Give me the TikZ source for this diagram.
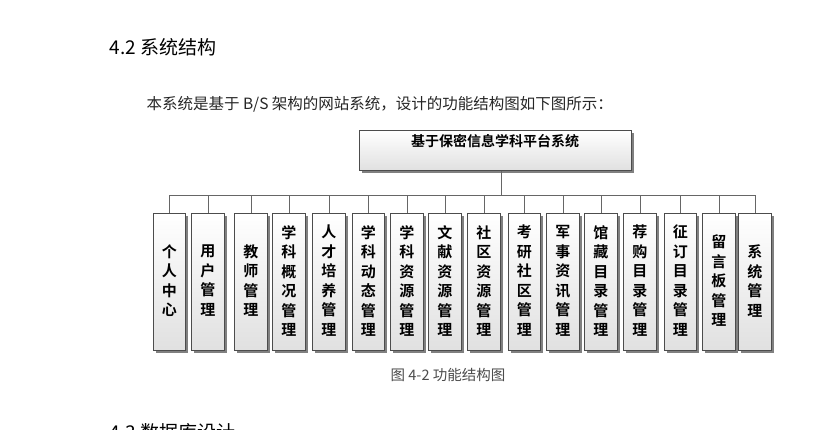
\documentclass[tikz,border=0pt]{standalone}
\usepackage{fontspec}
\usetikzlibrary{shadows,calc}
\setmainfont{Noto Sans CJK SC}
\newfontfamily\cjkb{Noto Sans CJK SC Bold}
\begin{document}
\begin{tikzpicture}[x=1pt,y=-1pt,
  mbox/.style={draw=black!70,line width=0.6pt,top color=white,bottom color=black!12,
    drop shadow={shadow xshift=2.5pt,shadow yshift=-2.5pt,fill=black!50,opacity=1},
    inner sep=0pt,align=center},
  conn/.style={draw=black!60,line width=0.6pt}]
\useasboundingbox[clip] (0,0) rectangle (835,429);
\fill[white] (0,0) rectangle (835,429);
\node[anchor=west,font=\fontsize{19}{22}\selectfont] (h) at (106,47) {4.2 系统结构};
\node[anchor=west,font=\fontsize{15.5}{18}\selectfont,text=black!85] (p) at (143,104) {本系统是基于 B/S 架构的网站系统，设计的功能结构图如下图所示：};
\node[mbox,minimum width=272pt,minimum height=40pt,anchor=north west] (top) at (359,130) {};
\node[font=\cjkb\fontsize{14}{16}\selectfont] (tt) at (495,141) {基于保密信息学科平台系统};
\coordinate (hb) at (501,195);
\foreach \i/\l/\r/\t in {1/153/185/{个\\人\\中\\心},2/191/224/{用\\户\\管\\理},3/234/267/{教\\师\\管\\理},4/272/305/{学\\科\\概\\况\\管\\理},5/312/345/{人\\才\\培\\养\\管\\理},6/352/384/{学\\科\\动\\态\\管\\理},7/390/423/{学\\科\\资\\源\\管\\理},8/428/461/{文\\献\\资\\源\\管\\理},9/467/500/{社\\区\\资\\源\\管\\理},10/508/540/{考\\研\\社\\区\\管\\理},11/546/579/{军\\事\\资\\讯\\管\\理},12/584/617/{馆\\藏\\目\\录\\管\\理},13/623/656/{荐\\购\\目\\录\\管\\理},14/664/696/{征\\订\\目\\录\\管\\理},15/702/735/{留\\言\\板\\管\\理},16/738/771/{系\\统\\管\\理}}{
  \pgfmathsetmacro\w{\r-\l}
  \node[mbox,minimum width=\w pt,minimum height=137pt,anchor=north west] (b\i) at (\l,213) {};
  \node (t\i) at ($(b\i.center)+(0,-1)$) [font=\cjkb\fontsize{15}{19.5}\selectfont,align=center] {\t};
  \coordinate (c\i) at (b\i.north |- hb);
  \draw[conn] (c\i) -- (b\i.north);
}
\draw[conn] (c1) -- (c16);
\draw[conn] (top.south -| hb) -- (hb);
\node[font=\fontsize{14.5}{17}\selectfont,text=black!70] (cap) at (448,375) {图 4-2 功能结构图};
\node[anchor=west,font=\fontsize{19}{22}\selectfont] (h2) at (106,432) {4.3 数据库设计};
\end{tikzpicture}
\end{document}
